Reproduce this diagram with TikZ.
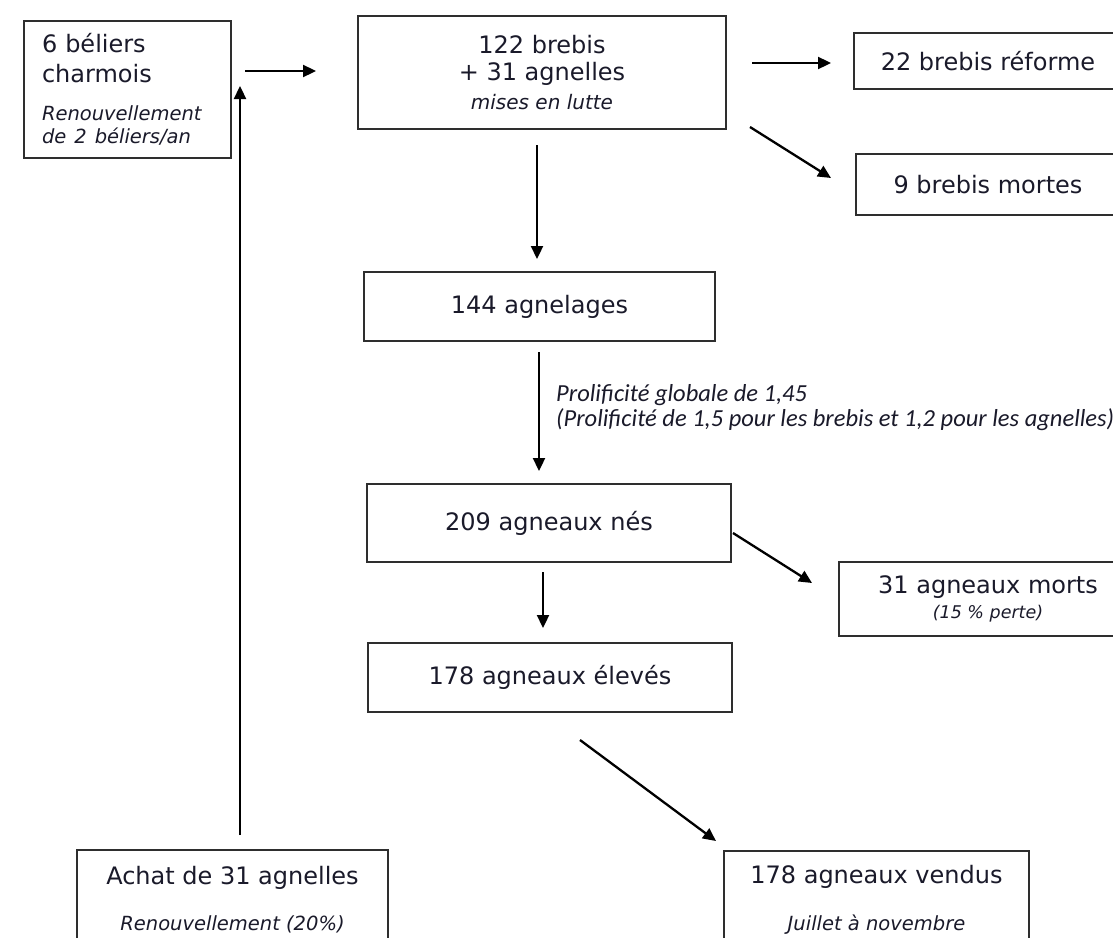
\documentclass[tikz,border=0pt]{standalone}
\usepackage{fontspec}
\setmainfont{DejaVu Sans}
\newfontfamily\calibri{Carlito}
\usetikzlibrary{arrows.meta}
\definecolor{txt}{HTML}{1A1A2A}
\definecolor{frame}{HTML}{2E2E2E}
\newcommand{\mainsz}{\fontsize{24}{30}\selectfont}
\newcommand{\notesz}{\fontsize{19.5}{23}\selectfont\itshape}
\tikzstyle{block} = [draw=frame, line width=1.6pt, rectangle, text=txt, font=\mainsz, align=center, inner sep=0pt]
\tikzstyle{flow} = [->, line width=2.3pt]
\tikzstyle{note} = [anchor=north west, inner sep=0pt, align=left, text=txt, font=\calibri\fontsize{24.5}{25}\selectfont\itshape]
\begin{document}
\begin{tikzpicture}[x=1pt, y=-1pt, >={Triangle[length=13pt,width=12pt]}]
		\useasboundingbox (0,0) rectangle (1113,937);
		\fill [white] (0,0) rectangle (1113,937);
		\clip (0,0) rectangle (1113,937);
		\node [block, minimum width=207pt, minimum height=137pt, text width=171pt, align=left] (beliers) at (127.5,89.5) {6 béliers\\charmois\\[8pt]{\notesz Renouvellement}\\[-7pt]{\notesz de 2 béliers/an}};
		\node [block, minimum width=368pt, minimum height=113pt] (lutte) at (542,72.5) {122 brebis\\[-3pt]+ 31 agnelles\\[-1pt]{\fontsize{20}{23}\selectfont\itshape mises en lutte}};
		\node [block, minimum width=268pt, minimum height=56pt] (reforme) at (988,61) {22 brebis réforme};
		\node [block, minimum width=264pt, minimum height=61pt] (mortes) at (988,184.5) {9 brebis mortes};
		\node [block, minimum width=351pt, minimum height=69pt] (agnelages) at (539.5,306.5) {144 agnelages};
		\node [block, minimum width=364pt, minimum height=78pt] (nes) at (549,523) {209 agneaux nés};
		\node [block, minimum width=364pt, minimum height=69pt] (eleves) at (550,677.5) {178 agneaux élevés};
		\node [block, minimum width=298pt, minimum height=74pt] (morts) at (988,599) {31 agneaux morts\\[-5pt]{\fontsize{17.5}{20}\selectfont\itshape (15~\% perte)}};
		\node [block, minimum width=305pt, minimum height=98pt] (vendus) at (876.5,900) {178 agneaux vendus\\[17pt]{\notesz Juillet à novembre}};
		\node [block, minimum width=311pt, minimum height=100pt] (achat) at (232.5,900) {Achat de 31 agnelles\\[16pt]{\notesz Renouvellement (20\%)}};
		\node [note] (prolif) at (556,384) {Prolificité globale de 1,45\\(Prolificité de 1,5 pour les brebis et 1,2 pour les agnelles)};

		\coordinate (a1s) at (245,71);  \coordinate (a1e) at (316,71);
		\coordinate (a2s) at (752,63);  \coordinate (a2e) at (831,63);
		\coordinate (a3s) at (750,127); \coordinate (a3e) at (831,178);
		\coordinate (a4s) at (537,145); \coordinate (a4e) at (537,259);
		\coordinate (a5s) at (539,352); \coordinate (a5e) at (539,471);
		\coordinate (a6s) at (733,533); \coordinate (a6e) at (812,583);
		\coordinate (a7s) at (543,572); \coordinate (a7e) at (543,628);
		\coordinate (a8s) at (580,740); \coordinate (a8e) at (716,841);
		\coordinate (a9s) at (240,835); \coordinate (a9e) at (240,86);

		\draw [flow] (a1s) -- (a1e);
		\draw [flow] (a2s) -- (a2e);
		\draw [flow] (a3s) -- (a3e);
		\draw [flow] (a4s) -- (a4e);
		\draw [flow] (a5s) -- (a5e);
		\draw [flow] (a6s) -- (a6e);
		\draw [flow] (a7s) -- (a7e);
		\draw [flow] (a8s) -- (a8e);
		\draw [flow] (a9s) -- (a9e);
	\end{tikzpicture}
\end{document}
